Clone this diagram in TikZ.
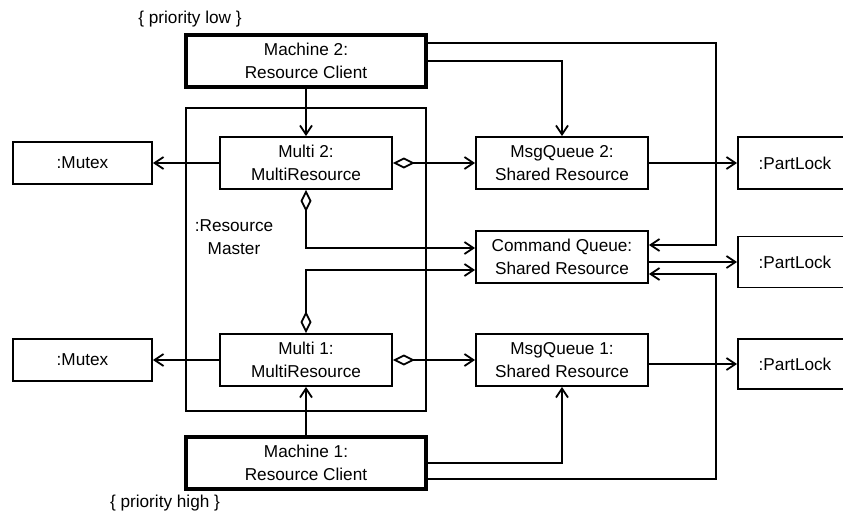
\documentclass[tikz,border=0pt]{standalone}
\usepackage{fontspec}
\setmainfont{Liberation Sans}
\usetikzlibrary{arrows.meta}
\tikzset{
  box/.style={draw, line width=1.8pt, inner sep=0pt, align=center,
    font=\fontsize{17.2}{22.5}\selectfont},
  client/.style={box, line width=3.5pt},
  lbl/.style={inner sep=0pt, align=center, font=\fontsize{17.2}{22.5}\selectfont},
  arr/.style={line width=1.8pt, -{Straight Barb[length=9pt,width=12pt]}},
  diaarr/.style={line width=1.8pt, {Diamond[open,length=22pt,width=11pt]}-{Straight Barb[length=9pt,width=12pt]}},
}
\begin{document}
\begin{tikzpicture}[x=1pt,y=-1pt]
\useasboundingbox (0,0) rectangle (843,515);
\fill[white] (0,0) rectangle (843,515);
\clip (0,0) rectangle (843,515);

% nodes
\node[client, minimum width=240, minimum height=52] (m2) at (306,61) {Machine 2:\\Resource Client};
\node[box, minimum width=240, minimum height=303] (rm) at (306,259.5) {};
\node[lbl] (rmlbl) at (234,237) {:Resource\\Master};
\node[box, minimum width=172, minimum height=52] (multi2) at (306,163) {Multi 2:\\MultiResource};
\node[box, minimum width=139, minimum height=42] (mutex1) at (82.5,163) {:Mutex};
\node[box, minimum width=172, minimum height=52] (mq2) at (562,163) {MsgQueue 2:\\Shared Resource};
\node[box, minimum width=114, minimum height=52] (pl1) at (795,163) {:PartLock};
\node[box, minimum width=172, minimum height=52] (cq) at (562,257) {Command Queue:\\Shared Resource};
\node[box, minimum width=114, minimum height=51] (pl2) at (795,262) {:PartLock};
\node[box, minimum width=172, minimum height=52] (multi1) at (306,360) {Multi 1:\\MultiResource};
\node[box, minimum width=139, minimum height=42] (mutex2) at (82.5,360) {:Mutex};
\node[box, minimum width=172, minimum height=52] (mq1) at (562,360) {MsgQueue 1:\\Shared Resource};
\node[box, minimum width=114, minimum height=50] (pl3) at (795,364) {:PartLock};
\node[client, minimum width=240, minimum height=52] (m1) at (306,463) {Machine 1:\\Resource Client};
\node[lbl] (plow) at (190,19) {\{ priority low \}};
\node[lbl] (phigh) at (165,503) {\{ priority high \}};

% helper coordinates
\coordinate (ya) at (0,43);
\coordinate (yb) at (0,61);
\coordinate (xq) at (716,0);
\coordinate (yc1) at (0,245);
\coordinate (yc2) at (0,274);
\coordinate (yl1) at (0,248);
\coordinate (yl2) at (0,270);
\coordinate (yd) at (0,463);
\coordinate (ye) at (0,479);

% connectors
\draw[arr] (m2.south) -- (multi2.north);
\draw[arr] (m2.east |- ya) -| (xq |- yc1) -- (cq.east |- yc1);
\draw[arr] (m2.east |- yb) -| (mq2.north);
\draw[arr] (multi2.west) -- (mutex1.east);
\draw[diaarr] (multi2.east) -- (mq2.west);
\draw[arr] (mq2.east) -- (pl1.west);
\draw[diaarr] (multi2.south) |- (cq.west |- yl1);
\draw[diaarr] (multi1.north) |- (cq.west |- yl2);
\draw[arr] (cq.east |- pl2.west) -- (pl2.west);
\draw[arr] (multi1.west) -- (mutex2.east);
\draw[diaarr] (multi1.east) -- (mq1.west);
\draw[arr] (mq1.east |- pl3.west) -- (pl3.west);
\draw[arr] (m1.north) -- (multi1.south);
\draw[arr] (m1.east |- yd) -| (mq1.south);
\draw[arr] (m1.east |- ye) -| (xq |- yc2) -- (cq.east |- yc2);
\end{tikzpicture}
\end{document}
